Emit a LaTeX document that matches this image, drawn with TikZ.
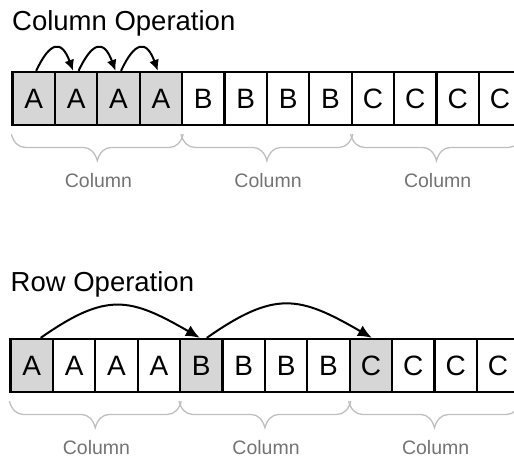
\documentclass[tikz,border=0pt]{standalone}
\usepackage{fontspec}
\setmainfont{Liberation Sans}
\usetikzlibrary{arrows.meta}
\usetikzlibrary{decorations.pathreplacing}

\begin{document}
\begin{tikzpicture}[x=1pt,y=1pt,
    cell/.style={draw, line width=2.3pt, minimum width=42.4pt, minimum height=53pt,
                 inner sep=0pt, font=\fontsize{28}{30}\selectfont},
    hit/.style={fill=black!16},
    bare/.style={},
    hop/.style={line width=2pt, -{Latex[length=11pt,width=10pt]}},
    jump/.style={line width=2pt, -{Latex[length=14pt,width=12pt]}},
    grp/.style={draw=black!25, line width=1.3pt, decorate,
                decoration={brace, mirror, amplitude=14pt, transform={yscale=1.9}}},
    lbl/.style={text=black!55, font=\fontsize{19.5}{21}\selectfont, anchor=base, inner sep=0pt},
    title/.style={anchor=base west, inner sep=0pt, font=\fontsize{27.5}{30}\selectfont}]
  \clip (0,0) rectangle (514,-458);

  % column operation: A A A A | B B B B | C C C C
  \node[title] (ctitle) at (12,-30) {Column Operation};
  \foreach \i/\l/\s in {1/A/hit,2/A/hit,3/A/hit,4/A/hit,5/B/bare,6/B/bare,
                        7/B/bare,8/B/bare,9/C/bare,10/C/bare,11/C/bare,12/C/bare} {
    \node[cell,\s] (t\i) at ({12.5+42.4*(\i-0.5)},-98.5) {\l};
  }
  \foreach \a/\b in {1/2,2/3,3/4}
    \draw[hop] ([xshift=2.5pt]t\a.north) to[out=65,in=110,looseness=2.3] ([xshift=-3pt]t\b.north);

  % braces under each group of four
  \foreach \a/\b/\m in {1/4/2,5/8/6,9/12/10} {
    \draw[grp] ([yshift=-8pt]t\a.south west) -- ([yshift=-8pt]t\b.south east);
    \node[lbl] (tl\m) at ([yshift=-61pt]t\m.south east) {Column};
  }

  % row operation: first cell of every group
  \node[title] (rtitle) at (10.5,-291) {Row Operation};
  \foreach \i/\l/\s in {1/A/hit,2/A/bare,3/A/bare,4/A/bare,5/B/hit,6/B/bare,
                        7/B/bare,8/B/bare,9/C/hit,10/C/bare,11/C/bare,12/C/bare} {
    \node[cell,\s] (b\i) at ({10.5+42.4*(\i-0.5)},-365.5) {\l};
  }
  \draw[jump] ([xshift=9pt]b1.north) to[out=35,in=150,looseness=1.3] ([xshift=-1.5pt]b5.north);
  \draw[jump] ([xshift=5.5pt]b5.north) to[out=35,in=150,looseness=1.3] ([xshift=1pt]b9.north);

  \foreach \a/\b/\m in {1/4/2,5/8/6,9/12/10} {
    \draw[grp] ([yshift=-8pt]b\a.south west) -- ([yshift=-8pt]b\b.south east);
    \node[lbl] (bl\m) at ([yshift=-61pt]b\m.south east) {Column};
  }
\end{tikzpicture}
\end{document}
